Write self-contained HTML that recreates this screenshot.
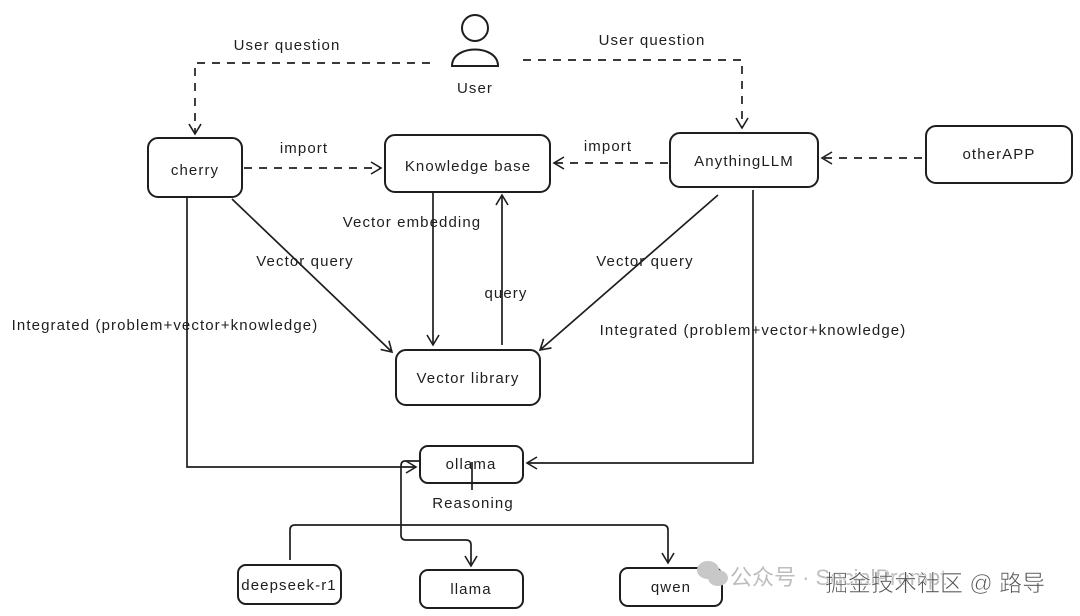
<!DOCTYPE html>
<html><head><meta charset="utf-8"><style>
html,body{margin:0;padding:0;background:#fff;width:1080px;height:616px;overflow:hidden}
text{font-family:"Liberation Sans",sans-serif;font-size:15px;letter-spacing:1.1px;fill:#1e1e1e}
</style></head><body>
<svg width="1080" height="616" viewBox="0 0 1080 616" xmlns="http://www.w3.org/2000/svg">
<defs><marker id="a" markerWidth="14" markerHeight="14" refX="11" refY="7" orient="auto" markerUnits="userSpaceOnUse"><path d="M1,1 L11,7 L1,13" fill="none" stroke="#1e1e1e" stroke-width="1.6"/></marker></defs>
<g fill="none" stroke="#1e1e1e" stroke-width="2">
<circle cx="475" cy="28" r="13"/>
<path d="M452,66 C452,44 498,44 498,66 Z"/>
<rect x="148" y="138" width="94" height="59" rx="10"/>
<rect x="385" y="135" width="165" height="57" rx="10"/>
<rect x="670" y="133" width="148" height="54" rx="10"/>
<rect x="926" y="126" width="146" height="57" rx="10"/>
<rect x="396" y="350" width="144" height="55" rx="10"/>
<rect x="420" y="446" width="103" height="37" rx="8"/>
<rect x="238" y="565" width="103" height="39" rx="8"/>
<rect x="420" y="570" width="103" height="38" rx="8"/>
<rect x="620" y="568" width="102" height="38" rx="8"/>
</g>
<g fill="none" stroke="#1e1e1e" stroke-width="1.7" stroke-dasharray="8,7">
<path d="M430,63 L195,63 L195,134" marker-end="url(#a)"/>
<path d="M523,60 L742,60 L742,128" marker-end="url(#a)"/>
<path d="M244,168 L381,168" marker-end="url(#a)"/>
<path d="M668,163 L554,163" marker-end="url(#a)"/>
<path d="M922,158 L822,158" marker-end="url(#a)"/>
</g>
<g fill="none" stroke="#1e1e1e" stroke-width="1.7">
<path d="M232,199 L392,352" marker-end="url(#a)"/>
<path d="M718,195 L540,350" marker-end="url(#a)"/>
<path d="M433,193 L433,345" marker-end="url(#a)"/>
<path d="M502,345 L502,195" marker-end="url(#a)"/>
<path d="M187,198 L187,467 L416,467" marker-end="url(#a)"/>
<path d="M753,190 L753,463 L527,463" marker-end="url(#a)"/>
<path d="M472,462 L472,490"/>
<path d="M420,461 L405,461 Q401,461 401,466 L401,535 Q401,540 406,540 L466,540 Q471,540 471,545 L471,566" marker-end="url(#a)"/>
<path d="M290,560 L290,530 Q290,525 295,525 L663,525 Q668,525 668,530 L668,563" marker-end="url(#a)"/>
</g>
<text x="475" y="93" text-anchor="middle">User</text>
<text x="287" y="50" text-anchor="middle">User question</text>
<text x="652" y="45" text-anchor="middle">User question</text>
<text x="195" y="175" text-anchor="middle">cherry</text>
<text x="468" y="171" text-anchor="middle">Knowledge base</text>
<text x="744" y="166" text-anchor="middle">AnythingLLM</text>
<text x="999" y="159" text-anchor="middle">otherAPP</text>
<text x="468" y="383" text-anchor="middle">Vector library</text>
<text x="471" y="469" text-anchor="middle">ollama</text>
<text x="289" y="590" text-anchor="middle">deepseek-r1</text>
<text x="471" y="594" text-anchor="middle">llama</text>
<text x="671" y="592" text-anchor="middle">qwen</text>
<text x="304" y="153" text-anchor="middle">import</text>
<text x="608" y="151" text-anchor="middle">import</text>
<text x="412" y="227" text-anchor="middle">Vector embedding</text>
<text x="305" y="266" text-anchor="middle">Vector query</text>
<text x="645" y="266" text-anchor="middle">Vector query</text>
<text x="506" y="298" text-anchor="middle">query</text>
<text x="165" y="330" text-anchor="middle">Integrated (problem+vector+knowledge)</text>
<text x="753" y="335" text-anchor="middle">Integrated (problem+vector+knowledge)</text>
<text x="473" y="508" text-anchor="middle">Reasoning</text>
<g fill="#c8c8c8"><ellipse cx="708" cy="570" rx="11" ry="9"/><ellipse cx="718" cy="578" rx="10" ry="8"/></g>
<text x="730" y="585" style="font-family:'Liberation Sans','Noto Sans CJK SC',sans-serif;font-size:22px;letter-spacing:0;fill:#bdbdbd">公众号 · SocialPrompt</text>
<text x="825" y="591" style="font-family:'Liberation Sans','Noto Sans CJK SC',sans-serif;font-size:23px;letter-spacing:0;fill:#555;stroke:#fff;stroke-width:0.6">掘金技术社区 @ 路导</text>
</svg>
</body></html>
